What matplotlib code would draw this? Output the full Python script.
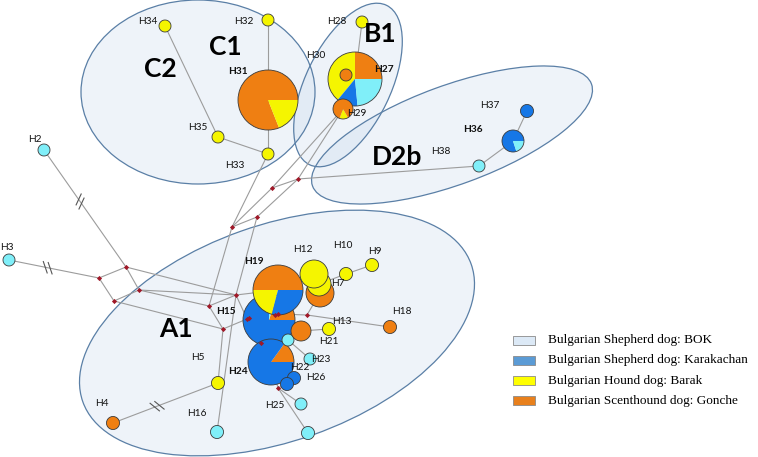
import matplotlib
matplotlib.use('Agg')
import matplotlib.pyplot as plt
from matplotlib.patches import Ellipse, Wedge, Rectangle
import numpy as np

# breed colours used in the pies
breed_colors = {'BOK': '#80eff9', 'KAR': '#1677e6', 'BAR': '#f5f500', 'GON': '#ef7f12'}

# haplotype nodes (picture pixel coords), drawing order = list order
hap_names = ['H2', 'H3', 'H4', 'H5', 'H16', 'H25', 'H25b', 'H15', 'H24', 'H26', 'H26b',
             'H22', 'H23', 'H20', 'H21', 'H19', 'H7o', 'H7', 'H12', 'H10', 'H9', 'H18',
             'H38', 'H36', 'H37', 'H34', 'H32', 'H31', 'H35', 'H33', 'H28', 'H27', 'H30', 'H29']
hap_x = [44, 9, 113, 218, 217, 301, 308, 269, 271, 294, 287,
         288, 310, 301, 329, 278, 320, 319, 314, 346, 372, 390,
         479, 513, 527, 165, 268, 268, 218, 268, 362, 355, 346, 343]
hap_y = [150, 260, 423, 383, 432, 404, 433, 320, 362, 378, 384,
         340, 359, 331, 329, 290, 293, 284, 274, 274, 265, 327,
         166, 141, 111, 26, 20, 100, 137, 154, 22, 79, 75, 109]
hap_r = [6, 6, 6.5, 6.5, 6.5, 6, 6.5, 26, 23, 6.5, 6.5,
         6, 6, 10, 6.5, 25, 14, 12, 14, 6.5, 6.5, 6.5,
         6, 11, 6.5, 6, 6, 30, 6, 6, 6, 27, 6, 10]
hap_start = [0] * len(hap_names)
hap_start[hap_names.index('H27')] = 90
hap_start[hap_names.index('H29')] = 250
hap_parts = {
    'H2': [('BOK', 1)], 'H3': [('BOK', 1)], 'H4': [('GON', 1)], 'H5': [('BAR', 1)],
    'H16': [('BOK', 1)], 'H25': [('BOK', 1)], 'H25b': [('BOK', 1)],
    'H15': [('GON', 0.2), ('BOK', 0.05), ('KAR', 0.75)],
    'H24': [('GON', 0.15), ('KAR', 0.85)],
    'H26': [('KAR', 1)], 'H26b': [('KAR', 1)], 'H22': [('BOK', 1)], 'H23': [('BOK', 1)],
    'H20': [('GON', 1)], 'H21': [('BAR', 1)],
    'H19': [('GON', 0.5), ('BAR', 0.21), ('KAR', 0.29)],
    'H7o': [('GON', 1)], 'H7': [('BAR', 1)], 'H12': [('BAR', 1)],
    'H10': [('BAR', 1)], 'H9': [('BAR', 1)], 'H18': [('GON', 1)],
    'H38': [('BOK', 1)], 'H36': [('KAR', 0.8), ('BOK', 0.2)], 'H37': [('KAR', 1)],
    'H34': [('BAR', 1)], 'H32': [('BAR', 1)], 'H31': [('GON', 0.81), ('BAR', 0.19)],
    'H35': [('BAR', 1)], 'H33': [('BAR', 1)], 'H28': [('BAR', 1)],
    'H27': [('BAR', 0.39), ('KAR', 0.125), ('BOK', 0.235), ('GON', 0.25)],
    'H30': [('GON', 1)], 'H29': [('BAR', 0.14), ('GON', 0.86)],
}

# median vectors
med_names = ['m%d' % i for i in range(1, 19)]
med_x = [232, 272, 298, 257, 126, 99, 139, 114, 209, 236, 223, 247, 249, 275, 278, 307, 261, 278]
med_y = [227, 188, 179, 217, 267, 278, 290, 301, 306, 295, 329, 319, 318, 315, 314, 315, 343, 388]

edges = [('H34', 'H35'), ('H35', 'H33'), ('H32', 'H31'), ('H31', 'H33'), ('H33', 'm1'),
         ('H28', 'H27'), ('H29', 'm2'), ('H29', 'm3'), ('m1', 'm2'), ('m1', 'm4'),
         ('m4', 'm3'), ('m2', 'm3'), ('m3', 'H38'), ('H38', 'H36'), ('H36', 'H37'),
         ('H2', 'm5'), ('H3', 'm6'), ('m6', 'm5'), ('m6', 'm8'), ('m5', 'm7'), ('m8', 'm7'),
         ('m5', 'm10'), ('m7', 'm9'), ('m7', 'm10'), ('m8', 'm11'),
         ('m1', 'm9'), ('m4', 'm10'), ('m9', 'm10'), ('m9', 'm11'), ('m11', 'm12'),
         ('m10', 'H19'), ('m10', 'm12'), ('m12', 'm13'), ('m14', 'm15'), ('m15', 'm16'),
         ('m16', 'H18'), ('m16', 'H7o'), ('m11', 'H5'), ('H4', 'H5'), ('m10', 'H16'),
         ('H15', 'm17'), ('m17', 'H24'), ('H24', 'm18'), ('m18', 'H25'), ('m18', 'H25b'),
         ('m18', 'H26b'), ('H20', 'H21'), ('H15', 'H22'), ('H22', 'H23'),
         ('H10', 'H7'), ('H10', 'H9')]
hash_marks = [('H2', 'm5', 0.44), ('H3', 'm6', 0.43), ('H4', 'H5', 0.42)]

# clade ellipses: name, centre, width, height, angle
clade_cx = [198, 348, 452, 277]
clade_cy = [92, 85, 135, 333]
clade_w = [234, 177, 297, 412]
clade_h = [184, 85, 99, 216]
clade_ang = [0, -64.2, -20.1, -19.5]

clade_labels = ['C1', 'C2', 'B1', 'D2b', 'A1']
clade_lx = [225, 160, 380, 397, 176]
clade_ly = [47, 69, 34, 157, 329]

hap_labels = ['H34', 'H32', 'H31', 'H35', 'H33', 'H28', 'H30', 'H27', 'H29', 'H37', 'H36',
              'H38', 'H2', 'H3', 'H19', 'H12', 'H10', 'H9', 'H7', 'H15', 'H13', 'H21',
              'H18', 'H5', 'H24', 'H23', 'H22', 'H26', 'H4', 'H16', 'H25']
hap_lx = [148, 244, 238, 198, 235, 337, 316, 384, 357, 490, 473,
          441, 35, 7, 254, 303, 343, 375, 338, 226, 342, 329,
          402, 198, 238, 321, 300, 316, 102, 197, 275]
hap_ly = [22, 22, 72, 128, 165, 22, 56, 69, 113, 106, 130,
          151, 139, 247, 262, 250, 246, 251, 283, 311, 322, 341,
          312, 357, 372, 359, 367, 378, 404, 414, 405]
bold_labels = ['H31', 'H27', 'H36', 'H19', 'H15', 'H24']

legend_labels = ['Bulgarian Shepherd dog: BOK', 'Bulgarian Shepherd dog: Karakachan',
                 'Bulgarian Hound dog: Barak', 'Bulgarian Scenthound dog: Gonche']
legend_colors = ['#dce9f6', '#5b9bd5', '#ffff00', '#e8801c']

fig = plt.figure(figsize=(7.58, 4.57), dpi=100)
ax = fig.add_axes([0, 0, 1, 1])
ax.set_xlim(0, 758)
ax.set_ylim(457, 0)
ax.axis('off')

for cx, cy, w, h, a in zip(clade_cx, clade_cy, clade_w, clade_h, clade_ang):
    ax.add_patch(Ellipse((cx, cy), w, h, angle=a, facecolor='#c9daec', alpha=0.3,
                         edgecolor='none', zorder=0))
    ax.add_patch(Ellipse((cx, cy), w, h, angle=a, facecolor='none',
                         edgecolor='#5a7fa6', lw=0.9, zorder=1))

pos = {n: (x, y) for n, x, y in zip(hap_names, hap_x, hap_y)}
pos.update({n: (x, y) for n, x, y in zip(med_names, med_x, med_y)})

for a, b in edges:
    (x0, y0), (x1, y1) = pos[a], pos[b]
    ax.plot([x0, x1], [y0, y1], color='#9c9c9c', lw=0.8, zorder=2)

for a, b, t in hash_marks:
    p0, p1 = np.array(pos[a], float), np.array(pos[b], float)
    u = (p1 - p0) / np.linalg.norm(p1 - p0)
    n = np.array([-u[1], u[0]])
    d = n * np.cos(np.radians(30)) + u * np.sin(np.radians(30))
    c = p0 + t * (p1 - p0)
    for off in (-2.5, 2.5):
        cc = c + off * u
        ax.plot([cc[0] - 6 * d[0], cc[0] + 6 * d[0]], [cc[1] - 6 * d[1], cc[1] + 6 * d[1]],
                color='#555555', lw=0.8, zorder=2)

for i, name in enumerate(hap_names):
    z = 3 + i * 0.01
    ang = hap_start[i]
    for breed, frac in hap_parts[name]:
        a2 = ang + frac * 360
        # y axis is inverted, so flip angles to keep them counter-clockwise on screen
        ax.add_patch(Wedge((hap_x[i], hap_y[i]), hap_r[i], -a2, -ang,
                           facecolor=breed_colors[breed], edgecolor='none', zorder=z))
        ang = a2
    ax.add_patch(Wedge((hap_x[i], hap_y[i]), hap_r[i], 0, 360, facecolor='none',
                       edgecolor='#3a3a3a', lw=0.6, zorder=z))

ax.scatter(med_x, med_y, marker='D', s=7, color='#a01828', zorder=10, linewidths=0)

for t, x, y in zip(hap_labels, hap_lx, hap_ly):
    ax.text(x, y, t, ha='center', va='center', fontsize=7.3, family='Lato',
            fontweight='bold' if t in bold_labels else 'normal', color='#111111', zorder=11)

for t, x, y in zip(clade_labels, clade_lx, clade_ly):
    ax.text(x, y, t, ha='center', va='center', fontsize=19, family='Lato',
            fontweight='bold', color='black', zorder=11)

for i, (lab, col) in enumerate(zip(legend_labels, legend_colors)):
    yc = 340 + i * 20.3
    ax.add_patch(Rectangle((513, yc - 4.5), 22, 9, facecolor=col, edgecolor='#8a8a8a',
                           lw=0.6, zorder=11))
    ax.text(548, yc, lab, ha='left', va='center', fontsize=9.5,
            family='Liberation Serif', zorder=11)

fig.savefig('out.png', dpi=100)
